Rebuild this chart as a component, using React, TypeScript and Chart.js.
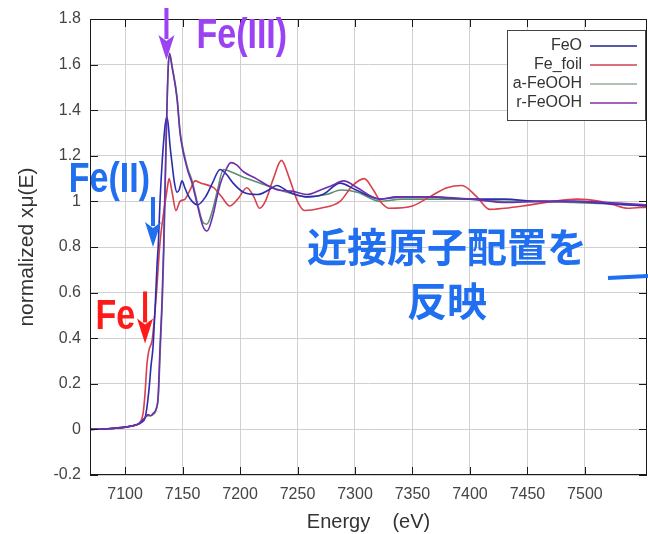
import React, { useEffect, useRef } from 'react';
import { Chart, registerables } from 'chart.js';

Chart.register(...registerables);

// ---------------- data ----------------
const seriesLabels = ['FeO', 'Fe_foil', 'a-FeOOH', 'r-FeOOH'];

const feoEnergy = [7069.5, 7085, 7100, 7110, 7114, 7117.4, 7119.1, 7120.9, 7122.6, 7124.3, 7126.1, 7127.8, 7129, 7130.4, 7132, 7133.5, 7135, 7136.3, 7137.5, 7139, 7141, 7143, 7145.2, 7147, 7149.6, 7152, 7154.5, 7158.3, 7163, 7170, 7176, 7182.6, 7188, 7194, 7203, 7215, 7225, 7232, 7243, 7258, 7272, 7287, 7301, 7322, 7340, 7365, 7400, 7430, 7460, 7490, 7520, 7554];
const feoMu = [0.0, 0.003, 0.01, 0.02, 0.03, 0.05, 0.1, 0.18, 0.28, 0.36, 0.53, 0.72, 0.82, 1.0, 1.15, 1.26, 1.34, 1.37, 1.34, 1.25, 1.16, 1.08, 1.04, 1.05, 1.09, 1.06, 1.03, 1.0, 0.985, 1.02, 1.08, 1.14, 1.12, 1.08, 1.04, 1.03, 1.05, 1.07, 1.04, 1.02, 1.03, 1.08, 1.05, 1.01, 1.02, 1.02, 1.01, 1.01, 1.0, 1.0, 0.99, 0.98];

const foilEnergy = [7069.5, 7085, 7100, 7110, 7113, 7115.7, 7117.4, 7119.1, 7120.9, 7123.5, 7125.2, 7127.8, 7129.6, 7131, 7133, 7136.5, 7138.3, 7140.9, 7144.3, 7147.8, 7152.2, 7156.5, 7161, 7166, 7177, 7184, 7191, 7198, 7206, 7212, 7217, 7222, 7229, 7236, 7243, 7250, 7256, 7270, 7287, 7298, 7308, 7316, 7322, 7330, 7350, 7365, 7380, 7393, 7406, 7417, 7430, 7446, 7472, 7493, 7513, 7525, 7537, 7554];
const foilMu = [0.0, 0.003, 0.01, 0.02, 0.03, 0.07, 0.16, 0.29, 0.35, 0.39, 0.47, 0.63, 0.77, 0.85, 0.93, 1.05, 1.1, 1.04, 0.96, 1.0, 1.01, 1.05, 1.09, 1.08, 1.06, 1.02, 0.98, 1.01, 1.06, 1.02, 0.97, 1.0, 1.1, 1.18, 1.1, 1.0, 0.96, 0.97, 1.0, 1.07, 1.1, 1.05, 1.0, 0.97, 0.98, 1.02, 1.06, 1.07, 1.02, 0.965, 0.97, 0.98, 1.0, 1.01, 1.0, 0.985, 0.97, 0.975];

const aFeoohEnergy = [7069.5, 7085, 7100, 7110, 7113, 7117, 7120, 7122, 7124.3, 7127, 7129, 7130.8, 7132.5, 7133.8, 7135.6, 7137.6, 7139, 7141, 7145.2, 7147.8, 7150.4, 7152.2, 7154.8, 7158.3, 7162.6, 7167.5, 7171, 7176, 7180, 7185.5, 7192, 7206, 7223, 7241, 7258, 7275, 7288, 7302, 7322, 7340, 7365, 7400, 7432, 7460, 7490, 7520, 7554];
const aFeoohMu = [0.0, 0.003, 0.01, 0.02, 0.03, 0.05, 0.06, 0.06, 0.065, 0.085, 0.15, 0.37, 0.58, 0.8, 1.22, 1.6, 1.64, 1.59, 1.46, 1.31, 1.23, 1.19, 1.14, 1.09, 1.0, 0.91, 0.9, 0.96, 1.04, 1.14, 1.13, 1.1, 1.07, 1.04, 1.02, 1.03, 1.05, 1.04, 1.0, 1.01, 1.01, 1.01, 1.0, 1.0, 0.995, 0.99, 0.98];

const rFeoohEnergy = [7069.5, 7085, 7100, 7110, 7113, 7117, 7120, 7122, 7124.3, 7127, 7128.7, 7130.4, 7132.2, 7133.5, 7135.5, 7137.5, 7138.8, 7140.5, 7145.2, 7147.8, 7150.4, 7152.2, 7154.8, 7158.3, 7162.6, 7167.8, 7171.3, 7176.5, 7180, 7183, 7187, 7192, 7197, 7203, 7214, 7224, 7233, 7245, 7258, 7270, 7280, 7290, 7302, 7315, 7322, 7336, 7365, 7400, 7432, 7460, 7490, 7520, 7554];
const rFeoohMu = [0.0, 0.003, 0.01, 0.02, 0.03, 0.05, 0.065, 0.06, 0.07, 0.09, 0.14, 0.36, 0.57, 0.79, 1.23, 1.58, 1.65, 1.6, 1.45, 1.3, 1.22, 1.18, 1.13, 1.08, 0.99, 0.89, 0.87, 0.94, 1.02, 1.08, 1.13, 1.17, 1.16, 1.13, 1.1, 1.07, 1.05, 1.045, 1.03, 1.05, 1.07, 1.09, 1.06, 1.02, 1.01, 1.02, 1.02, 1.01, 0.995, 1.0, 1.0, 0.995, 0.985];

const xTickValues = [7100, 7150, 7200, 7250, 7300, 7350, 7400, 7450, 7500];
const yTickValues = [-0.2, 0, 0.2, 0.4, 0.6, 0.8, 1, 1.2, 1.4, 1.6, 1.8];
const xRange = [7069.5, 7554];
const yRange = [-0.2, 1.8];

// annotation anchors (in data space)
const oxidationLabels = ['Fe(III)', 'Fe(II)', 'Fe'];
const oxidationTipEnergy = [7136, 7124.3, 7117.4];
const oxidationTipMu = [1.62, 0.8, 0.377];
const noteLines = ['近接原子配置を', '反映'];

// ---------------- styles ----------------
const seriesColors = ['#2c2cb0', '#d8404c', '#5f8f70', '#6c30ac'];
const seriesOrder = [1, 2, 3, 0];
const legendColors = ['#22228c', '#d04050', '#8fb09a', '#84309c'];
const oxidationColors = ['#9b42f2', '#1f6ff0', '#ff1a1a'];
const noteColor = '#1f6ff0';
const tickFont = "'Liberation Sans Narrow', 'Liberation Sans', Arial, sans-serif";
const baseFont = "'Liberation Sans', Arial, sans-serif";

function stretchedText(ctx: CanvasRenderingContext2D, text: string, x: number, y: number, font: string, color: string, sy: number, align: CanvasTextAlign) {
  ctx.save();
  ctx.translate(x, y);
  ctx.scale(1, sy);
  ctx.font = font;
  ctx.fillStyle = color;
  ctx.textAlign = align;
  ctx.textBaseline = 'alphabetic';
  ctx.fillText(text, 0, 0);
  ctx.restore();
}

function downArrow(ctx: CanvasRenderingContext2D, tipX: number, tipY: number, len: number, color: string) {
  const headLen = 25;
  const headW = 16;
  const shaft = 4;
  ctx.fillStyle = color;
  ctx.fillRect(tipX - shaft / 2, tipY - len, shaft, len - headLen + 4);
  ctx.beginPath();
  ctx.moveTo(tipX - headW / 2, tipY - headLen);
  ctx.lineTo(tipX, tipY - headLen + 6);
  ctx.lineTo(tipX + headW / 2, tipY - headLen);
  ctx.lineTo(tipX, tipY);
  ctx.closePath();
  ctx.fill();
}

const overlayPlugin = {
  id: 'overlay',
  afterDraw(chart: any) {
    const { ctx, chartArea: a, scales } = chart;
    const xs = scales.x;
    const ys = scales.y;
    ctx.save();

    // frame
    ctx.strokeStyle = '#1a1a1a';
    ctx.lineWidth = 1;
    ctx.strokeRect(Math.round(a.left) + 0.5, Math.round(a.top) + 0.5, Math.round(a.right - a.left) - 1, Math.round(a.bottom - a.top) - 1);

    // inward tick marks
    ctx.beginPath();
    for (const t of xs.ticks) {
      const px = Math.round(xs.getPixelForValue(t.value)) + 0.5;
      ctx.moveTo(px, a.bottom);
      ctx.lineTo(px, a.bottom - 8);
      ctx.moveTo(px, a.top);
      ctx.lineTo(px, a.top + 8);
    }
    for (const t of ys.ticks) {
      const py = Math.round(ys.getPixelForValue(t.value)) + 0.5;
      ctx.moveTo(a.left, py);
      ctx.lineTo(a.left + 8, py);
      ctx.moveTo(a.right, py);
      ctx.lineTo(a.right - 8, py);
    }
    ctx.stroke();

    // legend
    const lx0 = a.right - 140;
    const ly0 = a.top + 11;
    const lw = 138;
    const lh = 90;
    ctx.fillStyle = '#ffffff';
    ctx.fillRect(lx0, ly0, lw, lh);
    ctx.strokeStyle = '#444';
    ctx.strokeRect(lx0 + 0.5, ly0 + 0.5, lw, lh);
    chart.data.datasets.forEach((ds: any, i: number) => {
      const ry = ly0 + 16 + i * 19;
      ctx.font = `16px ${baseFont}`;
      ctx.fillStyle = '#333';
      ctx.textAlign = 'right';
      ctx.textBaseline = 'middle';
      ctx.fillText(ds.label, lx0 + 75, ry);
      ctx.strokeStyle = legendColors[i];
      ctx.lineWidth = 1.5;
      ctx.beginPath();
      ctx.moveTo(lx0 + 83, ry);
      ctx.lineTo(lx0 + 130, ry);
      ctx.stroke();
    });

    // oxidation-state arrows and labels
    const arrowLens = [52, 50, 52];
    oxidationLabels.forEach((label, i) => {
      const tx = xs.getPixelForValue(oxidationTipEnergy[i]);
      const ty = ys.getPixelForValue(oxidationTipMu[i]);
      downArrow(ctx, tx, ty, arrowLens[i], oxidationColors[i]);
      const font = `bold 34px ${baseFont}`;
      if (i === 0) stretchedText(ctx, label, tx + 30, ty - 12, font, oxidationColors[i], 1.25, 'left');
      if (i === 1) stretchedText(ctx, label, tx - 3, ty - 55, font, oxidationColors[i], 1.25, 'right');
      if (i === 2) stretchedText(ctx, label, tx - 10, ty - 14, font, oxidationColors[i], 1.25, 'right');
    });

    // note text
    ctx.font = `bold 40px 'Noto Sans CJK JP', sans-serif`;
    ctx.fillStyle = noteColor;
    ctx.textAlign = 'center';
    ctx.textBaseline = 'middle';
    ctx.fillText(noteLines[0], a.left + 357, 247);
    ctx.fillText(noteLines[1], a.left + 357, 301);

    // short blue line at the right edge
    ctx.strokeStyle = noteColor;
    ctx.lineWidth = 4;
    ctx.beginPath();
    ctx.moveTo(a.right - 39, 278);
    ctx.lineTo(a.right + 2, 276);
    ctx.stroke();

    ctx.restore();
  },
};

function toPoints(xsArr: number[], ysArr: number[]) {
  return xsArr.map((x, i) => ({ x, y: ysArr[i] }));
}

export default function App() {
  const canvasRef = useRef<HTMLCanvasElement | null>(null);

  useEffect(() => {
    if (!canvasRef.current) return;
    const data = [
      toPoints(feoEnergy, feoMu),
      toPoints(foilEnergy, foilMu),
      toPoints(aFeoohEnergy, aFeoohMu),
      toPoints(rFeoohEnergy, rFeoohMu),
    ];
    const chart = new Chart(canvasRef.current, {
      type: 'line',
      data: {
        datasets: seriesLabels.map((label, i) => ({
          label,
          data: data[i],
          borderColor: seriesColors[i],
          backgroundColor: seriesColors[i],
          borderWidth: 1.6,
          pointRadius: 0,
          fill: false,
          order: seriesOrder[i],
          cubicInterpolationMode: 'monotone' as const,
        })),
      },
      options: {
        animation: false,
        responsive: false,
        devicePixelRatio: 1,
        layout: { padding: { top: 19, right: 1, left: 0, bottom: 0 } },
        plugins: { legend: { display: false }, tooltip: { enabled: false } },
        scales: {
          x: {
            type: 'linear',
            min: xRange[0],
            max: xRange[1],
            afterBuildTicks: (s: any) => {
              s.ticks = xTickValues.map((v) => ({ value: v }));
            },
            afterFit: (s: any) => {
              s.height = 59;
            },
            grid: { color: '#d0d0d0', lineWidth: 1, drawTicks: false },
            border: { display: false },
            ticks: {
              padding: 10,
              autoSkip: false,
              maxRotation: 0,
              color: '#444',
              font: { family: tickFont, size: 16 },
              callback: (v: any) => String(v),
            },
            title: {
              display: true,
              text: 'Energy    (eV)',
              color: '#333',
              font: { family: baseFont, size: 20 },
              padding: { top: 0, bottom: 0 },
            },
          },
          y: {
            type: 'linear',
            min: yRange[0],
            max: yRange[1],
            afterBuildTicks: (s: any) => {
              s.ticks = yTickValues.map((v) => ({ value: v }));
            },
            afterFit: (s: any) => {
              s.width = 90;
            },
            grid: { color: '#d0d0d0', lineWidth: 1, drawTicks: false },
            border: { display: false },
            ticks: {
              padding: 9,
              autoSkip: false,
              color: '#444',
              font: { family: tickFont, size: 16 },
              callback: (v: any) => String(Math.round(Number(v) * 10) / 10),
            },
            title: {
              display: true,
              text: 'normalized xμ(E)',
              color: '#333',
              font: { family: baseFont, size: 21 },
              padding: { top: 15, bottom: 0 },
            },
          },
        },
      },
      plugins: [overlayPlugin],
    });
    return () => chart.destroy();
  }, []);

  return (
    <div style={{ position: 'fixed', left: 0, top: 0, width: 648, height: 534, background: '#ffffff' }}>
      <canvas ref={canvasRef} width={648} height={534} style={{ display: 'block' }} />
    </div>
  );
}
